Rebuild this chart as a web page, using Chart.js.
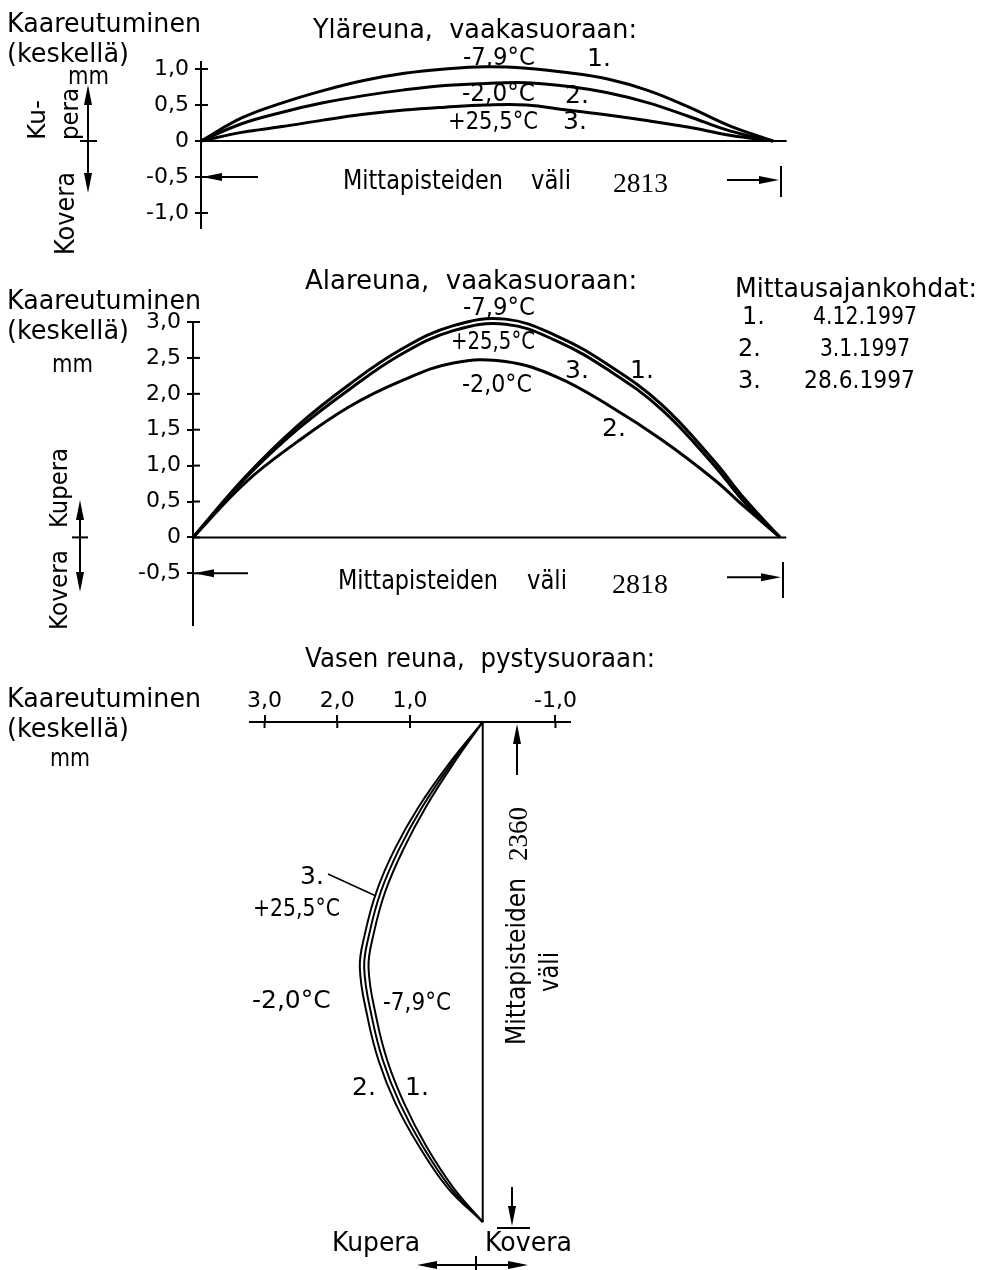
<!DOCTYPE html>
<html>
<head>
<meta charset="utf-8">
<script src="https://cdn.jsdelivr.net/npm/chart.js@4.4.1/dist/chart.umd.min.js"></script>
<style>
    html, body { margin: 0; padding: 0; background: #fff; }
    #page { position: relative; width: 983px; height: 1270px; overflow: hidden; }
    #page canvas { position: absolute; left: 0; top: 0; }
</style>
</head>
<body>
<div id="page">
    <canvas id="top-chart" width="983" height="1270"></canvas>
    <canvas id="mid-chart" width="983" height="1270"></canvas>
    <canvas id="side-chart" width="983" height="1270"></canvas>
</div>
<script>
// Yläreuna, vaakasuoraan (mm along span, deflection mm)
const topPos = [0, 200, 400, 600, 800, 1000, 1200, 1400, 1600, 1800, 2000, 2200, 2400, 2600, 2813];
const topCold = [0, 0.32, 0.53, 0.70, 0.84, 0.94, 1.00, 1.03, 1.01, 0.95, 0.86, 0.70, 0.47, 0.21, 0];
const topMild = [0, 0.24, 0.40, 0.53, 0.63, 0.71, 0.77, 0.80, 0.81, 0.76, 0.67, 0.53, 0.34, 0.14, 0];
const topWarm = [0, 0.12, 0.20, 0.29, 0.37, 0.43, 0.47, 0.50, 0.50, 0.43, 0.36, 0.28, 0.19, 0.08, 0];
const topTicks = [-1, -0.5, 0, 0.5, 1];

// Alareuna, vaakasuoraan
const midPos = [0, 250, 500, 750, 1000, 1250, 1500, 1750, 2000, 2250, 2500, 2650, 2818];
const midCold = [0, 0.84, 1.55, 2.13, 2.62, 2.95, 3.04, 2.80, 2.39, 1.85, 1.07, 0.53, 0];
const midMild = [0, 0.76, 1.33, 1.82, 2.18, 2.43, 2.45, 2.23, 1.83, 1.36, 0.81, 0.42, 0];
const midWarm = [0, 0.82, 1.50, 2.06, 2.55, 2.88, 2.97, 2.73, 2.32, 1.78, 1.01, 0.48, 0];
const midTicks = [-0.5, 0, 0.5, 1, 1.5, 2, 2.5, 3];

// Vasen reuna, pystysuoraan
const sidePos = [0, 200, 400, 600, 800, 1000, 1160, 1400, 1600, 1800, 2000, 2200, 2360];
const sideCold = [0, 0.41, 0.78, 1.09, 1.34, 1.50, 1.57, 1.46, 1.31, 1.08, 0.78, 0.40, 0];
const sideMild = [0, 0.47, 0.88, 1.21, 1.46, 1.62, 1.69, 1.58, 1.43, 1.20, 0.88, 0.48, 0];
const sideWarm = [0, 0.44, 0.83, 1.15, 1.40, 1.56, 1.63, 1.52, 1.37, 1.14, 0.83, 0.44, 0];
const sideTicks = [-1, 1, 2, 3];

const SANS = '"DejaVu Sans"';
const SERIF = '"Liberation Serif"';

Chart.defaults.font.family = SANS;
Chart.defaults.color = '#000';

const fmt = (v) => (v === 0 ? '0' : v.toFixed(1).replace('.', ','));

const curve = (xs, ys, width) => ({
    data: xs.map((x, i) => ({ x, y: ys[i] })),
    showLine: true,
    borderColor: '#000',
    borderWidth: width,
    pointRadius: 0,
    tension: 0.4,
    clip: false,
});

const straight = (points) => ({
    data: points,
    showLine: true,
    borderColor: '#000',
    borderWidth: 2,
    pointRadius: 0,
    tension: 0,
    clip: false,
});

const valueAxis = (min, max, ticks, extra) => ({
    min,
    max,
    afterBuildTicks: (scale) => {
        scale.ticks = ticks.map((value) => ({ value }));
    },
    grid: { drawOnChartArea: false, tickLength: 6, color: '#000', lineWidth: 2 },
    border: { display: true, color: '#000', width: 2 },
    ticks: { color: '#000', font: { family: SANS, size: 22 }, padding: 6, callback: fmt },
    ...extra,
});

const txt = (ctx, s, x, y, size, opts = {}) => {
    ctx.save();
    ctx.font = `${size}px ${opts.serif ? SERIF : SANS}`;
    ctx.fillStyle = '#000';
    ctx.textAlign = opts.align || 'left';
    ctx.textBaseline = 'alphabetic';
    ctx.translate(x, y);
    if (opts.rot) {
        ctx.rotate(-Math.PI / 2);
    }
    if (opts.w) {
        ctx.fillText(s, 0, 0, opts.w);
    } else {
        ctx.fillText(s, 0, 0);
    }
    ctx.restore();
};

const line = (ctx, x1, y1, x2, y2, w = 2) => {
    ctx.save();
    ctx.strokeStyle = '#000';
    ctx.lineWidth = w;
    ctx.beginPath();
    ctx.moveTo(x1, y1);
    ctx.lineTo(x2, y2);
    ctx.stroke();
    ctx.restore();
};

// line with a filled narrow head at (x2, y2)
const arrow = (ctx, x1, y1, x2, y2, len = 20, half = 4) => {
    const a = Math.atan2(y2 - y1, x2 - x1);
    const c = Math.cos(a);
    const s = Math.sin(a);
    line(ctx, x1, y1, x2 - c * len * 0.5, y2 - s * len * 0.5);
    ctx.save();
    ctx.fillStyle = '#000';
    ctx.beginPath();
    ctx.moveTo(x2, y2);
    ctx.lineTo(x2 - c * len + s * half, y2 - s * len - c * half);
    ctx.lineTo(x2 - c * len - s * half, y2 - s * len + c * half);
    ctx.closePath();
    ctx.fill();
    ctx.restore();
};

const stubs = (chart, axis, len) => {
    const scale = chart.scales[axis];
    const { ctx, chartArea } = chart;
    scale.ticks.forEach((tick) => {
        const p = scale.getPixelForValue(tick.value);
        if (axis === 'y') {
            line(ctx, chartArea.left, p, chartArea.left + len, p);
        } else {
            line(ctx, p, chartArea.top, p, chartArea.top + len);
        }
    });
};

const heading = (ctx, y) => {
    txt(ctx, 'Kaareutuminen', 7, y, 26, { w: 194 });
    txt(ctx, '(keskellä)', 7, y + 30, 26, { w: 122 });
};

const topDecor = {
    id: 'topDecor',
    afterDraw: (chart) => {
        const { ctx, chartArea } = chart;
        const y = chart.scales.y;
        const zero = y.getPixelForValue(0);
        stubs(chart, 'y', 7);

        heading(ctx, 32);
        txt(ctx, 'mm', 68, 84, 24, { w: 41 });
        txt(ctx, 'Ku-', 45, 140, 25, { rot: true, w: 43 });
        txt(ctx, 'pera', 78, 140, 25, { rot: true, w: 52 });
        txt(ctx, 'Kovera', 74, 255, 26, { rot: true, w: 83 });
        arrow(ctx, 88, zero, 88, 85);
        arrow(ctx, 88, zero, 88, 193);
        line(ctx, 80, zero, 97, zero);

        txt(ctx, 'Yläreuna,  vaakasuoraan:', 313, 38, 26, { w: 324 });
        txt(ctx, '-7,9°C', 463, 65, 25, { w: 72 });
        txt(ctx, '1.', 587, 66, 25);
        txt(ctx, '-2,0°C', 462, 101, 25, { w: 73 });
        txt(ctx, '2.', 565, 103, 25);
        txt(ctx, '+25,5°C', 448, 129, 25, { w: 90 });
        txt(ctx, '3.', 563, 129, 25);

        const dimY = y.getPixelForValue(-0.5);
        arrow(ctx, 258, dimY, chartArea.left + 1, dimY);
        txt(ctx, 'Mittapisteiden', 343, 189, 26, { w: 160 });
        txt(ctx, 'väli', 571, 189, 26, { align: 'right', w: 40 });
        txt(ctx, '2813', 613, 192, 28, { serif: true, w: 55 });
        arrow(ctx, 727, dimY + 3, 779, dimY + 3);
        line(ctx, 781, 166, 781, 197);
    },
};

const midDecor = {
    id: 'midDecor',
    afterDraw: (chart) => {
        const { ctx, chartArea } = chart;
        const y = chart.scales.y;
        const zero = y.getPixelForValue(0);
        stubs(chart, 'y', 7);

        heading(ctx, 309);
        txt(ctx, 'mm', 52, 372, 24, { w: 41 });
        txt(ctx, 'Kupera', 67, 528, 25, { rot: true, w: 80 });
        txt(ctx, 'Kovera', 67, 630, 25, { rot: true, w: 80 });
        arrow(ctx, 80, zero, 80, 500);
        arrow(ctx, 80, zero, 80, 592);
        line(ctx, 72, zero, 88, zero);

        txt(ctx, 'Alareuna,  vaakasuoraan:', 305, 289, 26, { w: 333 });
        txt(ctx, '-7,9°C', 463, 315, 25, { w: 72 });
        txt(ctx, '+25,5°C', 451, 349, 25, { w: 84 });
        txt(ctx, '-2,0°C', 462, 392, 25, { w: 70 });
        txt(ctx, '3.', 565, 378, 25);
        txt(ctx, '1.', 630, 378, 25);
        txt(ctx, '2.', 602, 436, 25);

        txt(ctx, 'Mittausajankohdat:', 735, 297, 26, { w: 242 });
        txt(ctx, '1.', 742, 324, 24);
        txt(ctx, '4.12.1997', 813, 324, 24, { w: 104 });
        txt(ctx, '2.', 738, 356, 24);
        txt(ctx, '3.1.1997', 820, 356, 24, { w: 90 });
        txt(ctx, '3.', 738, 388, 24);
        txt(ctx, '28.6.1997', 804, 388, 24, { w: 111 });

        const dimY = y.getPixelForValue(-0.5);
        arrow(ctx, 248, dimY, chartArea.left + 1, dimY);
        txt(ctx, 'Mittapisteiden', 338, 589, 26, { w: 160 });
        txt(ctx, 'väli', 567, 589, 26, { align: 'right', w: 40 });
        txt(ctx, '2818', 612, 593, 28, { serif: true, w: 62 });
        arrow(ctx, 727, dimY + 4, 781, dimY + 4);
        line(ctx, 783, 562, 783, 598);
    },
};

const sideDecor = {
    id: 'sideDecor',
    afterDraw: (chart) => {
        const { ctx, chartArea } = chart;
        stubs(chart, 'x', 6);

        heading(ctx, 707);
        txt(ctx, 'mm', 50, 766, 24, { w: 40 });
        txt(ctx, 'Vasen reuna,  pystysuoraan:', 305, 667, 26, { w: 350 });

        arrow(ctx, 517, 775, 517, chartArea.top + 2);
        txt(ctx, 'Mittapisteiden', 525, 1045, 26, { rot: true, w: 167 });
        txt(ctx, '2360', 527, 861, 28, { rot: true, serif: true, w: 54 });
        txt(ctx, 'väli', 558, 972, 26, { rot: true, align: 'center', w: 40 });
        arrow(ctx, 512, 1187, 512, 1226);
        line(ctx, 497, 1228, 530, 1228);

        txt(ctx, 'Kupera', 332, 1251, 26, { w: 88 });
        txt(ctx, 'Kovera', 485, 1251, 26, { w: 87 });
        arrow(ctx, 476, 1265, 417, 1265);
        arrow(ctx, 476, 1265, 528, 1265);
        line(ctx, 476, 1256, 476, 1270);

        txt(ctx, '3.', 300, 884, 25);
        line(ctx, 328, 874, 376, 896, 1.5);
        txt(ctx, '+25,5°C', 253, 916, 25, { w: 87 });
        txt(ctx, '-2,0°C', 252, 1008, 25, { w: 80 });
        txt(ctx, '-7,9°C', 383, 1010, 25, { w: 68 });
        txt(ctx, '2.', 352, 1095, 25);
        txt(ctx, '1.', 405, 1095, 25);
    },
};

const common = {
    responsive: false,
    animation: false,
    events: [],
    plugins: { legend: { display: false }, tooltip: { enabled: false } },
};

new Chart(document.getElementById('top-chart'), {
    type: 'scatter',
    data: {
        datasets: [
            curve(topPos, topCold, 3),
            curve(topPos, topMild, 3),
            curve(topPos, topWarm, 3),
            straight([{ x: 0, y: 0 }, { x: 2880, y: 0 }]),
        ],
    },
    options: {
        ...common,
        layout: { padding: { left: 141, top: 62, right: 210, bottom: 1042 } },
        scales: {
            x: { type: 'linear', min: 0, max: 2813, display: false },
            y: valueAxis(-1.208, 1.097, topTicks, {
                afterFit: (scale) => {
                    scale.width = 60;
                },
            }),
        },
    },
    plugins: [topDecor],
});

new Chart(document.getElementById('mid-chart'), {
    type: 'scatter',
    data: {
        datasets: [
            curve(midPos, midCold, 3),
            curve(midPos, midMild, 3),
            curve(midPos, midWarm, 3),
            straight([{ x: 0, y: 0 }, { x: 2848, y: 0 }]),
        ],
    },
    options: {
        ...common,
        layout: { padding: { left: 133, top: 322, right: 203, bottom: 645 } },
        scales: {
            x: { type: 'linear', min: 0, max: 2818, display: false },
            y: valueAxis(-1.22, 3.0, midTicks, {
                afterFit: (scale) => {
                    scale.width = 60;
                },
            }),
        },
    },
    plugins: [midDecor],
});

const sideCurve = (vals) => ({
    ...curve(sidePos, vals, 2),
    data: sidePos.map((p, i) => ({ x: vals[i], y: p })),
});

new Chart(document.getElementById('side-chart'), {
    type: 'scatter',
    data: {
        datasets: [
            sideCurve(sideCold),
            sideCurve(sideMild),
            sideCurve(sideWarm),
            straight([{ x: 0, y: 0 }, { x: 0, y: 2360 }]),
        ],
    },
    options: {
        ...common,
        layout: { padding: { left: 250, top: 682, right: 413, bottom: 48 } },
        scales: {
            x: valueAxis(-1.2, 3.2, sideTicks, {
                type: 'linear',
                position: 'top',
                reverse: true,
                grid: { drawOnChartArea: false, tickLength: 7, color: '#000', lineWidth: 2 },
                ticks: { color: '#000', font: { family: SANS, size: 22 }, padding: 1, callback: fmt },
                afterFit: (scale) => {
                    scale.height = 40;
                },
            }),
            y: { type: 'linear', min: 0, max: 2360, reverse: true, display: false },
        },
    },
    plugins: [sideDecor],
});
</script>
</body>
</html>
